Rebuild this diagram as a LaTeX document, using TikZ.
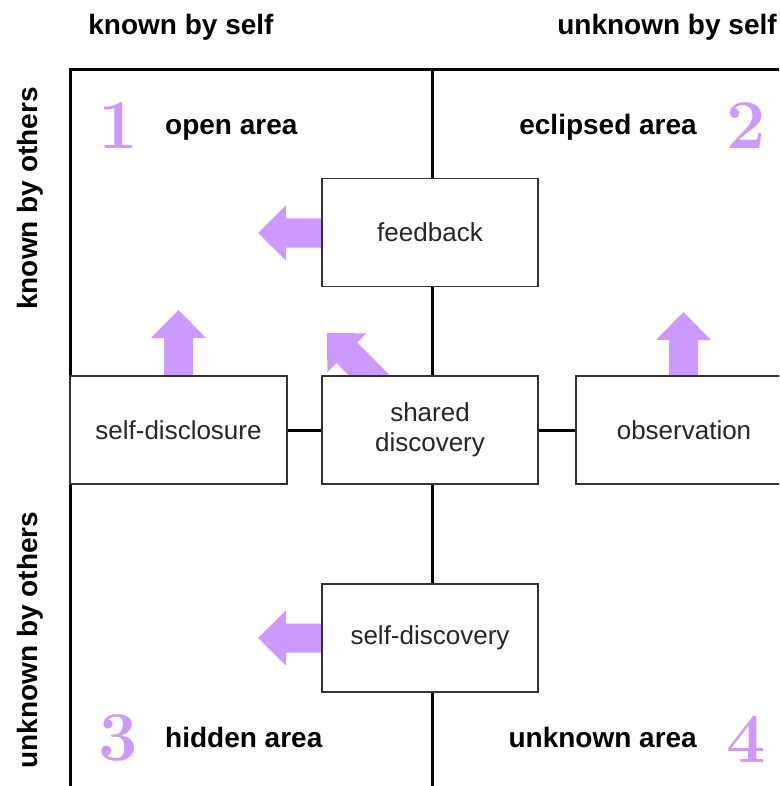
\documentclass[tikz,border=0pt]{standalone}
\usepackage{fontspec}
\setsansfont{Liberation Sans}
\begin{document}
\begin{tikzpicture}[x=1pt,y=-1pt,
  frameline/.style={line width=3pt,black},
  link/.style={line width=3pt,black},
  stagebox/.style={draw=black!80,line width=1.3pt,fill=white,rectangle,
    minimum width=216pt,minimum height=108pt,inner sep=0pt,
    font=\sffamily\fontsize{26}{30}\selectfont,text=black!85,align=center},
  arealabel/.style={font=\sffamily\bfseries\fontsize{28}{32}\selectfont,inner sep=0pt},
  axislabel/.style={font=\sffamily\bfseries\fontsize{28}{32}\selectfont,inner sep=0pt},
  areanum/.style={font=\rmfamily\bfseries\fontsize{70}{70}\selectfont,text=lilac,inner sep=0pt},
  fatarrow/.pic={\fill[lilac] (0,0) -- (28,27.5) -- (28,14.5) -- (#1,14.5) -- (#1,-14.5) -- (28,-14.5) -- (28,-27.5) -- cycle;}
]
\definecolor{lilac}{RGB}{204,153,255}
\useasboundingbox (0,0) rectangle (779,786);
\clip (0,0) rectangle (779,786);

% frame
\coordinate (ftl) at (70,70);
\coordinate (ftr) at (790,70);
\coordinate (fbl) at (70,800);
\coordinate (ctop) at (432,70);
\coordinate (cbot) at (432,800);
\draw[frameline] (ftr) -- (ftl) -- (fbl);

% arrows (behind boxes)
\pic[rotate=0] at (258,233) {fatarrow=80};
\pic[rotate=0] at (258,638) {fatarrow=80};
\pic[rotate=-90] at (178.5,310) {fatarrow=80};
\pic[rotate=-90] at (683.5,312) {fatarrow=80};
\pic[rotate=-45] at (327,333) {fatarrow=88};

% boxes
\node[stagebox] (fb) at (430,232.5) {feedback};
\node[stagebox] (sh) at (430,430) {shared\\discovery};
\node[stagebox,minimum width=217pt] (sd) at (178.5,430) {self-disclosure};
\node[stagebox] (ob) at (684,430) {observation};
\node[stagebox] (sdv) at (430,638) {self-discovery};

% connectors
\draw[link] (ctop) -- (ctop |- fb.north);
\draw[link] (fb.south -| ctop) -- (sh.north -| ctop);
\draw[link] (sh.south -| ctop) -- (sdv.north -| ctop);
\draw[link] (sdv.south -| ctop) -- (cbot);
\draw[link] (sd.east) -- (sh.west);
\draw[link] (sh.east) -- (ob.west);

% axis labels
\node[axislabel,anchor=base] (kbs) at (181,35) {known by self};
\node[axislabel,anchor=base] (ubs) at (667,35) {unknown by self};
\node[axislabel,anchor=base,rotate=90] (kbo) at (37,198.5) {known by others};
\node[axislabel,anchor=base,rotate=90] (ubo) at (37,640) {unknown by others};

% area labels
\node[areanum] (n1) at (118,126) {1};
\node[arealabel,anchor=base west] (l1) at (165,135) {open area};
\node[areanum] (n2) at (746,126) {2};
\node[arealabel,anchor=base east] (l2) at (697,135) {eclipsed area};
\node[areanum] (n3) at (118,738) {3};
\node[arealabel,anchor=base west] (l3) at (165,747) {hidden area};
\node[areanum] (n4) at (746,739) {4};
\node[arealabel,anchor=base east] (l4) at (697,747) {unknown area};
\end{tikzpicture}
\end{document}
